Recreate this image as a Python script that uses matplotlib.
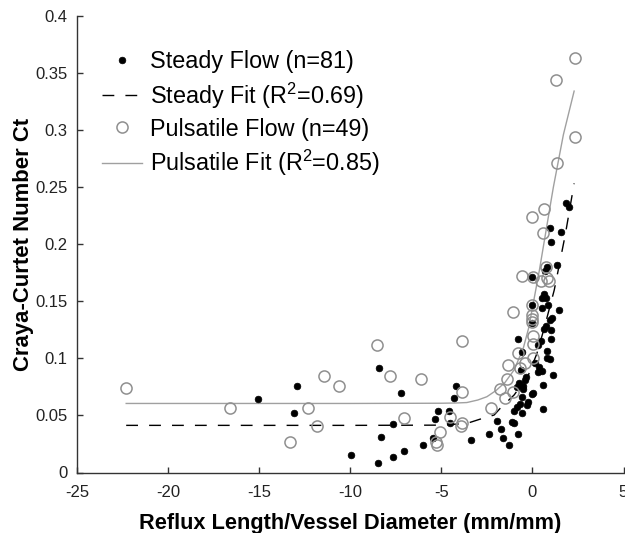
import matplotlib
matplotlib.use("Agg")
import matplotlib.pyplot as plt

plt.rcParams['font.family'] = ['Liberation Sans', 'DejaVu Sans']
plt.rcParams['mathtext.fontset'] = 'custom'
plt.rcParams['mathtext.rm'] = 'Liberation Sans'
plt.rcParams['mathtext.it'] = 'Liberation Sans'
plt.rcParams['mathtext.bf'] = 'Liberation Sans:bold'

# Steady flow points (reflux length / diameter, Ct)
steady_x = [-15.05, -12.91, -13.09, -9.96, -8.41, -8.33, -8.48, -7.67, -7.67, -7.21,
            -7.07, -6.01, -4.18, -4.30, -5.20, -4.58, -5.35, -4.52, -5.44, -3.35,
            -2.36, -1.92, -1.10, -0.99, -1.72, -0.77, -1.63, -1.26, -0.99, -0.58,
            -0.86, -0.31, 0.60, -0.58, -0.03, -0.49, -0.86, 0.57, -0.71, -0.40,
            1.12, -0.64, 0.52, 0.38, 0.97, 0.82, -0.58, 0.79, 0.48, -0.80,
            1.01, 0.64, 1.01, 0.97, -0.03, 1.07, 1.48, -0.02, 0.85, 0.53,
            0.75, -0.02, 0.70, 0.82, 1.37, 1.01, 1.56, 0.97, 1.85, 2.03,
            -0.22, 0.05, 0.30, -0.50, 0.30, 0.72, -0.70, 0.55, 0.66, -0.36, 0.12]
steady_y = [0.0647, 0.0760, 0.0518, 0.0156, 0.0913, 0.0314, 0.0086, 0.0422, 0.0133, 0.0696,
            0.0191, 0.0241, 0.0758, 0.0653, 0.0541, 0.0541, 0.0466, 0.0431, 0.0305, 0.0282,
            0.0337, 0.0448, 0.0445, 0.0436, 0.0378, 0.0337, 0.0300, 0.0241, 0.0542, 0.0524,
            0.0577, 0.0591, 0.0553, 0.0659, 0.0688, 0.0729, 0.0752, 0.0766, 0.0787, 0.0810,
            0.0854, 0.0898, 0.0892, 0.0927, 0.0994, 0.1000, 0.1058, 0.1067, 0.1152, 0.1167,
            0.1167, 0.1254, 0.1248, 0.1336, 0.1307, 0.1356, 0.1423, 0.1467, 0.1467, 0.1526,
            0.1526, 0.1715, 0.1768, 0.1797, 0.1818, 0.2016, 0.2110, 0.2139, 0.2363, 0.2329,
            0.0620, 0.0700, 0.0880, 0.0760, 0.1120, 0.1280, 0.0600, 0.1440, 0.1560, 0.0840, 0.0960]

# Pulsatile flow points
puls_x = [-22.32, -16.61, -13.31, -12.31, -11.85, -11.44, -10.62, -8.53, -7.80, -7.07,
          -6.11, -3.86, -3.86, -4.52, -3.88, -3.92, -5.07, -5.29, -5.24, -2.25,
          -1.77, -1.50, -1.08, -1.41, -1.32, -0.68, -0.77, 0.02, 0.05, 0.02,
          -0.03, 0.00, -0.03, -0.03, -1.04, 0.90, 0.46, 0.02, -0.58, 0.75,
          0.57, 0.00, 0.64, 1.37, 2.36, 1.30, 2.36, -0.40, 0.80]
puls_y = [0.0743, 0.0562, 0.0270, 0.0562, 0.0410, 0.0845, 0.0755, 0.1114, 0.0843, 0.0475,
          0.0819, 0.1152, 0.0702, 0.0489, 0.0436, 0.0407, 0.0357, 0.0265, 0.0244, 0.0562,
          0.0729, 0.0650, 0.0708, 0.0816, 0.0942, 0.0918, 0.1044, 0.1000, 0.1126, 0.1196,
          0.1321, 0.1342, 0.1380, 0.1467, 0.1409, 0.1677, 0.1677, 0.1715, 0.1724, 0.1797,
          0.2101, 0.2241, 0.2306, 0.2714, 0.2942, 0.3438, 0.3631, 0.0960, 0.1700]

# Fit curves
steady_fit_x = [-22.3, -10.0, -5.0, -3.6, -2.9, -2.1, -1.77, -1.0, -0.22, 0.24, 0.64, 1.2, 1.8, 2.29]
steady_fit_y = [0.0413, 0.0413, 0.0415, 0.0430, 0.0466, 0.0504, 0.0562, 0.0680, 0.0854, 0.1040, 0.1260, 0.1600, 0.2080, 0.2533]

puls_fit_x = [-22.3, -10.0, -5.0, -4.2, -3.6, -3.0, -2.5, -2.0, -1.5, -1.0, -0.5, -0.2,
              0.38, 1.03, 1.15, 1.7, 2.29]
puls_fit_y = [0.0605, 0.0605, 0.0607, 0.0609, 0.0613, 0.0635, 0.0664, 0.0718, 0.0790, 0.0900,
              0.1090, 0.1270, 0.1770, 0.2387, 0.2500, 0.2960, 0.3342]

labels = ['Steady Flow (n=81)', r'Steady Fit (R$^2$=0.69)',
          'Pulsatile Flow (n=49)', r'Pulsatile Fit (R$^2$=0.85)']

fig = plt.figure(figsize=(6.25, 5.33), dpi=100)
ax = fig.add_axes([77/625, 1 - 472.5/533, (623.5 - 77)/625, (472.5 - 16)/533])

ax.plot(steady_x, steady_y, linestyle='none', marker='o', ms=4.8, mfc='black', mec='black',
        mew=0.5, label=labels[0], zorder=3)
ax.plot(steady_fit_x, steady_fit_y, color='black', lw=1.0, dashes=(8.5, 8.0),
        label=labels[1], zorder=2)
ax.plot(puls_x, puls_y, linestyle='none', marker='o', ms=8.0, mfc='none', mec='#8f8f8f',
        mew=1.1, label=labels[2], zorder=4)
ax.plot(puls_fit_x, puls_fit_y, color='#a0a0a0', lw=1.0, label=labels[3], zorder=2)

ax.set_xlim(-25, 5)
ax.set_ylim(0, 0.4)
ax.set_xticks([-25, -20, -15, -10, -5, 0, 5])
ax.set_yticks([0, 0.05, 0.1, 0.15, 0.2, 0.25, 0.3, 0.35, 0.4])
ax.set_yticklabels(['0', '0.05', '0.1', '0.15', '0.2', '0.25', '0.3', '0.35', '0.4'])
ax.set_xticklabels(['-25', '-20', '-15', '-10', '-5', '0', '5'])

for s in ['top', 'right']:
    ax.spines[s].set_visible(False)
for s in ['left', 'bottom']:
    ax.spines[s].set_color('#333333')
    ax.spines[s].set_linewidth(1.0)

ax.tick_params(axis='both', direction='in', length=4.5, width=1.0, color='#333333',
               labelsize=12, labelcolor='#222222')
ax.tick_params(axis='y', pad=7)
ax.tick_params(axis='x', pad=9)

ax.set_xlabel('Reflux Length/Vessel Diameter (mm/mm)', fontsize=15.7, fontweight='bold', labelpad=9)
ax.set_ylabel('Craya-Curtet Number Ct', fontsize=15.9, fontweight='bold', labelpad=1)

leg = ax.legend(loc='upper left', bbox_to_anchor=(0.029, 0.945), frameon=False,
                fontsize=16.8, handlelength=1.72, handletextpad=0.34, labelspacing=0.3,
                borderaxespad=0.0)

fig.savefig('out.png', dpi=100)
